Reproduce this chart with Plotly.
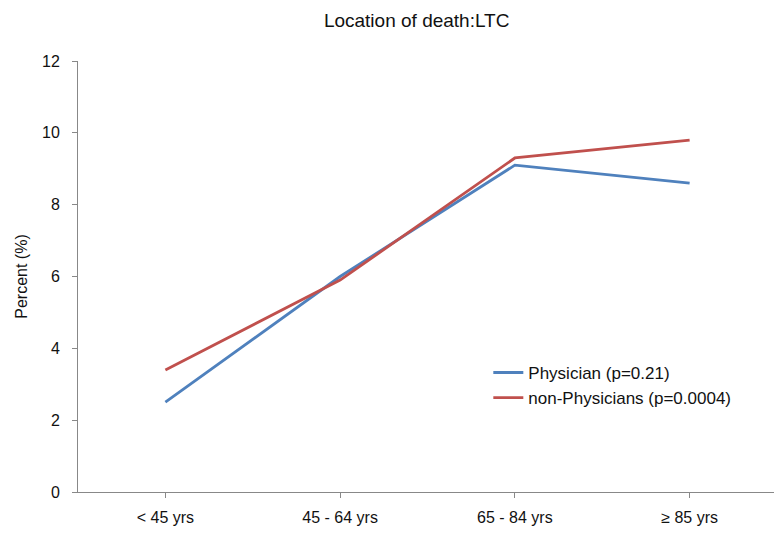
import plotly.graph_objects as go

categories = ["< 45 yrs", "45 - 64 yrs", "65 - 84 yrs", "≥ 85 yrs"]
physician = [2.5, 6.0, 9.1, 8.6]
non_physician = [3.4, 5.9, 9.3, 9.8]
y_ticks = [0, 2, 4, 6, 8, 10, 12]

font = "Liberation Sans, Arial, sans-serif"

fig = go.Figure()
fig.add_trace(go.Scatter(x=categories, y=physician, mode="lines",
                         name="Physician (p=0.21)",
                         line=dict(color="#4F81BD", width=2.8)))
fig.add_trace(go.Scatter(x=categories, y=non_physician, mode="lines",
                         name="non-Physicians (p=0.0004)",
                         line=dict(color="#C0504D", width=2.8)))

fig.update_layout(
    width=774, height=531,
    margin=dict(l=70, r=5, t=53, b=47),
    paper_bgcolor="white", plot_bgcolor="white",
    font=dict(family=font, size=16, color="#222"),
    title=dict(text="Location of death:LTC", x=0.528, xanchor="center",
               y=0.977, yanchor="middle",
               font=dict(family=font, size=19, color="#111")),
    showlegend=True,
    legend=dict(x=0.587, y=0.318, xanchor="left", yanchor="top",
                bgcolor="rgba(0,0,0,0)", font=dict(size=17, color="#111"),
                tracegroupgap=0, itemwidth=30),
    xaxis=dict(type="category", range=[-0.5, 3.5], showline=True,
               linecolor="#888", linewidth=1, ticks="outside", ticklen=5,
               tickcolor="#888", showgrid=False, zeroline=False,
               ticklabelstandoff=6,
               tickfont=dict(size=16, color="#111")),
    yaxis=dict(range=[0, 12], tickvals=y_ticks, showline=True,
               linecolor="#888", linewidth=1, ticks="outside", ticklen=5,
               tickcolor="#888", showgrid=False, zeroline=False,
               ticklabelstandoff=9,
               tickfont=dict(size=16, color="#111")),
)
fig.update_yaxes(title=dict(text="Percent (%)", standoff=10,
                            font=dict(size=16, color="#111")))

fig.write_html("out.html")
